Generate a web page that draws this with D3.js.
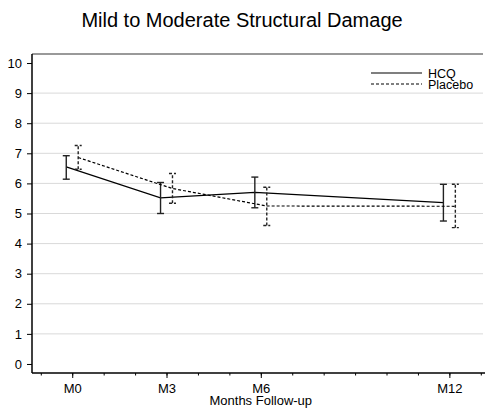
<!DOCTYPE html>
<html>
<head>
<meta charset="utf-8">
<script src="https://cdn.jsdelivr.net/npm/d3@7"></script>
<style>
  body { margin: 0; background: #fff; }
  text { font-family: "Liberation Sans", Arial, sans-serif; }
</style>
</head>
<body>
<div id="app"></div>
<script>
const months = [0, 3, 6, 12]
const monthLabels = ['M0', 'M3', 'M6', 'M12']
const hcqMean = [6.55, 5.52, 5.70, 5.36]
const hcqLow = [6.14, 5.00, 5.19, 4.75]
const hcqHigh = [6.92, 6.03, 6.21, 5.97]
const placeboMean = [6.86, 5.83, 5.25, 5.24]
const placeboLow = [6.47, 5.34, 4.60, 4.53]
const placeboHigh = [7.26, 6.33, 5.87, 5.97]
const yTicks = [0, 1, 2, 3, 4, 5, 6, 7, 8, 9, 10]

const w = 485
const h = 411
const plotL = 32, plotR = 483, plotT = 54, plotB = 373

const svg = d3.select('#app').append('svg')
  .attr('width', w)
  .attr('height', h)

const x = d3.scaleLinear().domain([-1.28, 13.07]).range([plotL, plotR])
const y = d3.scaleLinear().domain([-0.3, 10.3]).range([plotB, plotT])

// gridlines
svg.append('g')
  .selectAll('line')
  .data(yTicks.filter(d => d > 0 && d < 10))
  .enter().append('line')
  .attr('x1', plotL).attr('x2', plotR)
  .attr('y1', d => y(d)).attr('y2', d => y(d))
  .attr('stroke', '#d9d9d9')
  .attr('stroke-width', 1)

// top border
svg.append('line')
  .attr('x1', plotL).attr('x2', plotR)
  .attr('y1', plotT).attr('y2', plotT)
  .attr('stroke', '#777').attr('stroke-width', 1.5)

// y axis
const yAxis = d3.axisLeft(y).tickValues(yTicks).tickSize(5).tickPadding(5)
const gy = svg.append('g')
  .attr('transform', `translate(${plotL},0)`)
  .call(yAxis)
gy.select('.domain').attr('d', `M0,${plotT}V${plotB}`).attr('stroke', '#000').attr('stroke-width', 1.5)
gy.selectAll('text').style('font-size', '13px').attr('fill', '#000')

// x axis: minor ticks every month, labelled majors
const minor = d3.range(-1, 14)
const gxMinor = svg.append('g')
  .attr('transform', `translate(0,${plotB})`)
  .call(d3.axisBottom(x).tickValues(minor).tickSize(2.5).tickFormat(''))
gxMinor.select('.domain').attr('d', `M${plotL},0H${plotR + 2}`).attr('stroke', '#000').attr('stroke-width', 1.5)

const gx = svg.append('g')
  .attr('transform', `translate(0,${plotB})`)
  .call(d3.axisBottom(x).tickValues(months).tickSize(5).tickPadding(6)
    .tickFormat((d, i) => monthLabels[i]))
gx.select('.domain').remove()
gx.selectAll('text').style('font-size', '13px').attr('fill', '#000')

svg.append('text')
  .attr('x', x(6))
  .attr('y', 405)
  .attr('text-anchor', 'middle')
  .style('font-size', '13px')
  .text('Months Follow-up')

svg.append('text')
  .attr('x', 242)
  .attr('y', 27)
  .attr('text-anchor', 'middle')
  .style('font-size', '20px')
  .text('Mild to Moderate Structural Damage')

// series
const off = 0.19
const series = [
  { name: 'HCQ', mean: hcqMean, low: hcqLow, high: hcqHigh, dx: -off, dash: null },
  { name: 'Placebo', mean: placeboMean, low: placeboLow, high: placeboHigh, dx: off, dash: '3,2' }
]

const line = d3.line().x(d => x(d[0])).y(d => y(d[1]))

series.forEach(s => {
  const pts = months.map((m, i) => [m + s.dx, s.mean[i]])
  svg.append('path')
    .datum(pts)
    .attr('d', line)
    .attr('fill', 'none')
    .attr('stroke', '#000')
    .attr('stroke-width', 1.2)
    .attr('stroke-dasharray', s.dash)

  const eb = svg.append('g')
  months.forEach((m, i) => {
    const cx = x(m + s.dx)
    eb.append('line')
      .attr('x1', cx).attr('x2', cx)
      .attr('y1', y(s.low[i])).attr('y2', y(s.high[i]))
    eb.append('line')
      .attr('x1', cx - 3.5).attr('x2', cx + 3.5)
      .attr('y1', y(s.low[i])).attr('y2', y(s.low[i]))
    eb.append('line')
      .attr('x1', cx - 3.5).attr('x2', cx + 3.5)
      .attr('y1', y(s.high[i])).attr('y2', y(s.high[i]))
  })
  eb.selectAll('line')
    .attr('stroke', '#222')
    .attr('stroke-width', 1.4)
    .attr('stroke-dasharray', s.dash)
})

// legend
const legend = svg.append('g').attr('id', 'legend')
series.forEach((s, i) => {
  const ly = 73 + i * 11
  legend.append('line')
    .attr('x1', 371).attr('x2', 422)
    .attr('y1', ly).attr('y2', ly)
    .attr('stroke', '#000').attr('stroke-width', 1.2)
    .attr('stroke-dasharray', s.dash)
  legend.append('text')
    .attr('x', 428).attr('y', ly + 4.5)
    .style('font-size', '12.5px')
    .text(s.name)
})
</script>
</body>
</html>
